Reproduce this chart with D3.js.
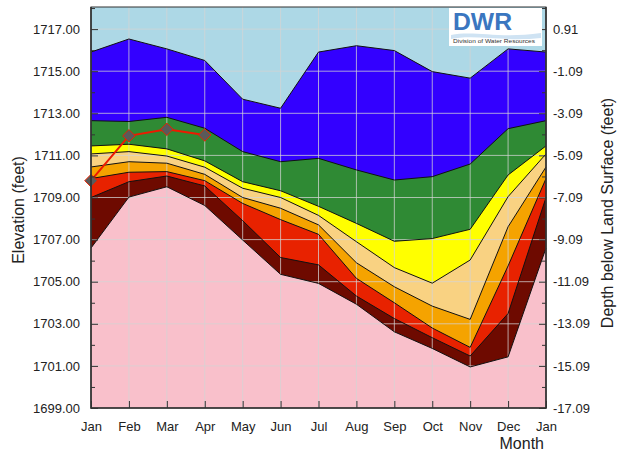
<!DOCTYPE html>
<html>
<head>
<meta charset="utf-8">
<script src="https://cdn.jsdelivr.net/npm/d3@7"></script>
<style>
  body { margin: 0; background: #fff; }
  text { font-family: "Liberation Sans", Arial, sans-serif; }
</style>
</head>
<body>
<div id="chart"></div>
<script>
// month labels (Jan repeated at the end of the cycle)
const months = ["Jan", "Feb", "Mar", "Apr", "May", "Jun", "Jul", "Aug", "Sep", "Oct", "Nov", "Dec", "Jan"];

// band boundaries, top to bottom (elevation, feet)
const maxLine   = [1715.91, 1716.53, 1716.06, 1715.51, 1713.67, 1713.24, 1715.91, 1716.21, 1715.98, 1714.98, 1714.67, 1716.06, 1715.91];
const blueGreen = [1712.65, 1712.61, 1712.81, 1712.29, 1711.18, 1710.70, 1710.86, 1710.31, 1709.83, 1709.99, 1710.59, 1712.27, 1712.65];
const greenYel  = [1711.45, 1711.53, 1711.31, 1710.74, 1709.75, 1709.32, 1708.58, 1707.77, 1706.92, 1707.05, 1707.49, 1710.07, 1711.45];
const yelLight  = [1711.07, 1711.18, 1710.97, 1710.44, 1709.44, 1709.00, 1708.15, 1706.90, 1705.67, 1704.93, 1706.03, 1709.04, 1711.07];
const lightOra  = [1710.45, 1710.70, 1710.63, 1710.10, 1709.00, 1708.49, 1707.70, 1705.90, 1704.76, 1703.84, 1703.21, 1707.61, 1710.45];
const oraRed    = [1709.90, 1710.20, 1710.23, 1709.80, 1708.72, 1707.95, 1707.25, 1705.16, 1704.00, 1702.80, 1701.88, 1705.75, 1709.90];
const redDark   = [1709.00, 1709.75, 1710.02, 1709.55, 1707.90, 1706.15, 1705.80, 1704.32, 1703.25, 1702.34, 1701.47, 1703.49, 1709.00];
const minLine   = [1706.60, 1709.02, 1709.51, 1708.62, 1706.98, 1705.35, 1704.92, 1703.93, 1702.62, 1701.83, 1700.95, 1701.43, 1706.60];

// current year readings, Jan to Apr
const currentYear = [1709.80, 1711.93, 1712.24, 1711.97];

const elevTicks = [1699, 1701, 1703, 1705, 1707, 1709, 1711, 1713, 1715, 1717];
const minorTicks = [1700, 1702, 1704, 1706, 1708, 1710, 1712, 1714, 1716, 1718];
const landSurface = 1716.09;

const bands = [maxLine, blueGreen, greenYel, yelLight, lightOra, oraRed, redDark, minLine];
const bandColors = ["#3300ff", "#2f8a34", "#ffff00", "#f9d282", "#f5a300", "#e82200", "#6e0a00", "#f9c0cb"];

const width = 620, height = 452;
const margin = {left: 91, top: 7, right: 74, bottom: 44};
const w = width - margin.left - margin.right;
const h = height - margin.top - margin.bottom;

const svg = d3.select("#chart")
    .append("svg")
    .attr("width", width)
    .attr("height", height);

const g = svg.append("g")
    .attr("transform", `translate(${margin.left},${margin.top})`);

const x = d3.scaleLinear().domain([0, 12]).range([0, w]);
const y = d3.scaleLinear().domain([1699, 1718.05]).range([h, 0]);

//background, the band above the max line
g.append("rect")
    .attr("width", w)
    .attr("height", h)
    .attr("fill", "#add8e6");

//each band filled from its upper line down to the bottom
bands.forEach((line, i) => {
    const area = d3.area()
        .x((d, j) => x(j))
        .y0(h)
        .y1(d => y(d));
    g.append("path")
        .datum(line)
        .attr("d", area)
        .attr("fill", bandColors[i]);
});

//grid
g.append("g")
    .selectAll("line")
    .data(d3.range(1, 12))
    .enter()
    .append("line")
    .attr("x1", d => x(d))
    .attr("x2", d => x(d))
    .attr("y1", 0)
    .attr("y2", h)
    .attr("stroke", "#d4d4d4")
    .attr("stroke-opacity", 0.75);

g.append("g")
    .selectAll("line")
    .data(elevTicks.slice(1))
    .enter()
    .append("line")
    .attr("x1", 0)
    .attr("x2", w)
    .attr("y1", d => y(d))
    .attr("y2", d => y(d))
    .attr("stroke", "#d4d4d4")
    .attr("stroke-opacity", 0.75);

//boundary lines
const line = d3.line()
    .x((d, j) => x(j))
    .y(d => y(d));

bands.forEach(b => {
    g.append("path")
        .datum(b)
        .attr("d", line)
        .attr("fill", "none")
        .attr("stroke", "#111")
        .attr("stroke-width", 1);
});

//current year
g.append("path")
    .datum(currentYear)
    .attr("d", line)
    .attr("fill", "none")
    .attr("stroke", "#ee1a00")
    .attr("stroke-width", 2);

g.selectAll(".marker")
    .data(currentYear)
    .enter()
    .append("path")
    .attr("class", "marker")
    .attr("d", d3.symbol().type(d3.symbolDiamond2).size(100))
    .attr("transform", (d, j) => `translate(${x(j)},${y(d)})`)
    .attr("fill", "#5a5a5a")
    .attr("stroke", "#e82200")
    .attr("stroke-width", 1);

//axes
const leftAxis = d3.axisLeft(y)
    .tickValues(elevTicks)
    .tickFormat(d => d.toFixed(2))
    .tickSizeInner(-7)
    .tickSizeOuter(0)
    .tickPadding(11);

const rightAxis = d3.axisRight(y)
    .tickValues(elevTicks)
    .tickFormat(d => (d - landSurface).toFixed(2))
    .tickSizeInner(-7)
    .tickSizeOuter(0)
    .tickPadding(7);

const bottomAxis = d3.axisBottom(x)
    .tickValues(d3.range(0, 13))
    .tickFormat(d => months[d])
    .tickSizeInner(-7)
    .tickSizeOuter(0)
    .tickPadding(14);

const styleAxis = sel => {
    sel.select(".domain").remove();
    sel.selectAll(".tick line").attr("stroke", "#333");
    sel.selectAll(".tick text")
        .attr("fill", "#222")
        .style("font-size", "13px");
};

g.append("g").call(leftAxis).call(styleAxis);
g.append("g").attr("transform", `translate(${w},0)`).call(rightAxis).call(styleAxis);
g.append("g").attr("transform", `translate(0,${h})`).call(bottomAxis).call(styleAxis);

//minor ticks
g.append("g")
    .call(d3.axisLeft(y).tickValues(minorTicks).tickSize(-4).tickFormat(""))
    .call(s => s.select(".domain").remove())
    .selectAll("line").attr("stroke", "#333");
g.append("g")
    .attr("transform", `translate(${w},0)`)
    .call(d3.axisRight(y).tickValues(minorTicks).tickSize(-4).tickFormat(""))
    .call(s => s.select(".domain").remove())
    .selectAll("line").attr("stroke", "#333");

//frame
g.append("rect")
    .attr("width", w)
    .attr("height", h)
    .attr("fill", "none")
    .attr("stroke", "#333")
    .attr("stroke-width", 1);
g.append("path")
    .attr("d", `M0,0V${h}H${w}V0`)
    .attr("fill", "none")
    .attr("stroke", "#333")
    .attr("stroke-width", 1.6);

//titles
svg.append("text")
    .attr("transform", `translate(24,${margin.top + 203}) rotate(-90)`)
    .attr("text-anchor", "middle")
    .style("font-size", "16px")
    .attr("fill", "#222")
    .text("Elevation (feet)");

svg.append("text")
    .attr("transform", `translate(613,${margin.top + 206}) rotate(-90)`)
    .attr("text-anchor", "middle")
    .style("font-size", "16px")
    .attr("fill", "#222")
    .text("Depth below Land Surface (feet)");

svg.append("text")
    .attr("x", margin.left + w - 2)
    .attr("y", 449)
    .attr("text-anchor", "end")
    .style("font-size", "16px")
    .attr("fill", "#222")
    .text("Month");

//DWR logo
const logo = svg.append("g").attr("transform", "translate(449,8)");
logo.append("rect")
    .attr("width", 93)
    .attr("height", 38)
    .attr("fill", "#fff");
logo.append("path")
    .attr("d", "M2,27 C25,22 50,31 92,25 L92,30 C55,34 25,26 2,31 Z")
    .attr("fill", "#cfe3f3");
logo.append("text")
    .attr("x", 4)
    .attr("y", 22)
    .attr("textLength", 59)
    .attr("lengthAdjust", "spacingAndGlyphs")
    .style("font-size", "23px")
    .style("font-weight", "bold")
    .attr("fill", "#3a76c0")
    .text("DWR");
logo.append("text")
    .attr("x", 4)
    .attr("y", 35)
    .attr("textLength", 82)
    .attr("lengthAdjust", "spacingAndGlyphs")
    .style("font-size", "6px")
    .attr("fill", "#333")
    .text("Division of Water Resources");
</script>
</body>
</html>
